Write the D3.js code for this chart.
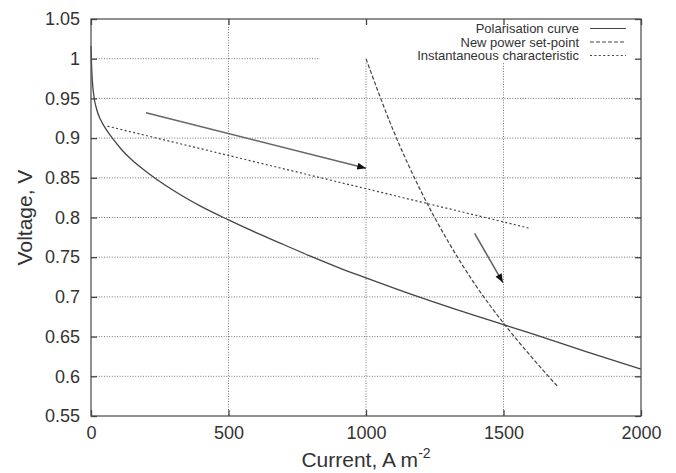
<!DOCTYPE html>
<html>
<head>
<meta charset="utf-8">
<script src="https://cdn.jsdelivr.net/npm/d3@7"></script>
<style>
  body { margin: 0; background: #fff; }
  svg text { font-family: "Liberation Sans", Arial, Helvetica, sans-serif; fill: #333; }
</style>
</head>
<body>
<div id="chartDiv"></div>
<script>
// Polarisation curve and power set-point chart

// Polarisation curve
var polCurrent = [0, 2, 5, 10, 20, 35, 55, 80, 110, 150, 200, 300, 400, 500, 600, 700, 800, 900, 1000, 1200, 1400, 1500, 1600, 1800, 2000];
var polVoltage = [1.016, 0.992, 0.972, 0.954, 0.937, 0.923, 0.911, 0.899, 0.886, 0.872, 0.858, 0.834, 0.814, 0.797, 0.781, 0.766, 0.751, 0.737, 0.724, 0.699, 0.676, 0.665, 0.654, 0.631, 0.609];

// New power set-point
var setCurrent = [1000, 1100, 1200, 1300, 1400, 1500, 1600, 1700];
var setVoltage = [1.0, 0.909, 0.833, 0.769, 0.714, 0.667, 0.625, 0.586];

// Instantaneous characteristic
var instCurrent = [60, 1600];
var instVoltage = [0.915, 0.786];

// Arrows: [start current, start voltage, end current, end voltage]
var arrows = [
    [200, 0.932, 1000, 0.862],
    [1395, 0.78, 1498, 0.718]
];

var xTicks = [0, 500, 1000, 1500, 2000];
var yTicks = [0.55, 0.6, 0.65, 0.7, 0.75, 0.8, 0.85, 0.9, 0.95, 1, 1.05];

var legendLabels = ["Polarisation curve", "New power set-point", "Instantaneous characteristic"];

var width = 676, height = 473;
var margin = {top: 19, right: 35, bottom: 57, left: 91};
var plotW = width - margin.left - margin.right;
var plotH = height - margin.top - margin.bottom;

var x = d3.scaleLinear().domain([0, 2000]).range([0, plotW]);
var y = d3.scaleLinear().domain([0.55, 1.05]).range([plotH, 0]);

var svg = d3.select("#chartDiv")
    .append("svg")
    .attr("width", width)
    .attr("height", height);

svg.append("defs").append("marker")
    .attr("id", "head")
    .attr("viewBox", "0 0 10 8")
    .attr("refX", 10)
    .attr("refY", 4)
    .attr("markerUnits", "userSpaceOnUse")
    .attr("markerWidth", 13)
    .attr("markerHeight", 7)
    .attr("orient", "auto")
    .append("path")
    .attr("d", "M0,0 L10,4 L0,8 Z")
    .attr("fill", "#111");

var g = svg.append("g")
    .attr("transform", "translate(" + margin.left + "," + margin.top + ")");

// grid
g.selectAll(".hgrid")
    .data(yTicks.slice(1, -1))
    .enter()
    .append("line")
    .attr("x1", 0).attr("x2", plotW)
    .attr("y1", function(d) { return y(d); })
    .attr("y2", function(d) { return y(d); })
    .attr("stroke", "#777")
    .attr("stroke-width", 1)
    .attr("stroke-dasharray", "1,1.6");

g.selectAll(".vgrid")
    .data(xTicks.slice(1, -1))
    .enter()
    .append("line")
    .attr("x1", function(d) { return x(d); })
    .attr("x2", function(d) { return x(d); })
    .attr("y1", 0).attr("y2", plotH)
    .attr("stroke", "#777")
    .attr("stroke-width", 1)
    .attr("stroke-dasharray", "1,1.6");

// opaque key area hides the grid behind it
g.append("rect")
    .attr("x", 229)
    .attr("y", 0)
    .attr("width", plotW - 229)
    .attr("height", 44)
    .attr("fill", "#fff");

// legend
var legend = g.append("g").attr("class", "legend");
var dashes = [null, "4,2", "2,2.4"];
legendLabels.forEach(function(label, i) {
    var ly = 9.5 + i * 13.5;
    legend.append("text")
        .attr("x", 488)
        .attr("y", ly)
        .attr("text-anchor", "end")
        .attr("dominant-baseline", "central")
        .style("font-size", "13px")
        .text(label);
    legend.append("line")
        .attr("x1", 499).attr("x2", 535)
        .attr("y1", ly).attr("y2", ly)
        .attr("stroke", "#444")
        .attr("stroke-width", 1.2)
        .attr("stroke-dasharray", dashes[i]);
});

// curves
var line = d3.line()
    .x(function(d) { return x(d[0]); })
    .y(function(d) { return y(d[1]); });

g.append("path")
    .datum(d3.zip(polCurrent, polVoltage))
    .attr("d", line.curve(d3.curveMonotoneX))
    .attr("fill", "none")
    .attr("stroke", "#444")
    .attr("stroke-width", 1.3);

g.append("path")
    .datum(d3.zip(setCurrent, setVoltage))
    .attr("d", line.curve(d3.curveMonotoneX))
    .attr("fill", "none")
    .attr("stroke", "#444")
    .attr("stroke-width", 1.2)
    .attr("stroke-dasharray", "4,2");

g.append("path")
    .datum(d3.zip(instCurrent, instVoltage))
    .attr("d", line.curve(d3.curveLinear))
    .attr("fill", "none")
    .attr("stroke", "#444")
    .attr("stroke-width", 1.2)
    .attr("stroke-dasharray", "2,2.4");

// arrows
g.selectAll(".arrow")
    .data(arrows)
    .enter()
    .append("line")
    .attr("x1", function(d) { return x(d[0]); })
    .attr("y1", function(d) { return y(d[1]); })
    .attr("x2", function(d) { return x(d[2]); })
    .attr("y2", function(d) { return y(d[3]); })
    .attr("stroke", "#666")
    .attr("stroke-width", 1.6)
    .attr("marker-end", "url(#head)");

// frame and inward ticks on all four sides
g.append("rect")
    .attr("width", plotW)
    .attr("height", plotH)
    .attr("fill", "none")
    .attr("stroke", "#555")
    .attr("stroke-width", 1.3);

var tickLen = 6;
g.append("g")
    .attr("transform", "translate(0," + plotH + ")")
    .call(d3.axisBottom(x).tickValues(xTicks).tickSize(-tickLen).tickFormat(d3.format("d")).tickPadding(10))
    .call(function(a) { a.select(".domain").remove(); });
g.append("g")
    .call(d3.axisTop(x).tickValues(xTicks).tickSize(-tickLen).tickFormat(""))
    .call(function(a) { a.select(".domain").remove(); });
g.append("g")
    .call(d3.axisLeft(y).tickValues(yTicks).tickSize(-tickLen).tickFormat(d3.format("")).tickPadding(11))
    .call(function(a) { a.select(".domain").remove(); });
g.append("g")
    .attr("transform", "translate(" + plotW + ",0)")
    .call(d3.axisRight(y).tickValues(yTicks).tickSize(-tickLen).tickFormat(""))
    .call(function(a) { a.select(".domain").remove(); });

g.selectAll(".tick line").attr("stroke", "#444").attr("stroke-width", 1.3);
g.selectAll(".tick text")
    .style("font-size", "18px")
    .style("font-family", "'Liberation Sans', Arial, sans-serif")
    .attr("fill", "#333");

// axis titles
var xTitle = svg.append("text")
    .attr("x", margin.left + plotW / 2)
    .attr("y", 467)
    .attr("text-anchor", "middle")
    .style("font-size", "21px");
xTitle.append("tspan").text("Current, A m");
xTitle.append("tspan")
    .attr("dy", -9)
    .style("font-size", "14px")
    .text("-2");

svg.append("text")
    .attr("transform", "translate(32," + (margin.top + plotH / 2) + ") rotate(-90)")
    .attr("text-anchor", "middle")
    .style("font-size", "21px")
    .text("Voltage, V");
</script>
</body>
</html>
